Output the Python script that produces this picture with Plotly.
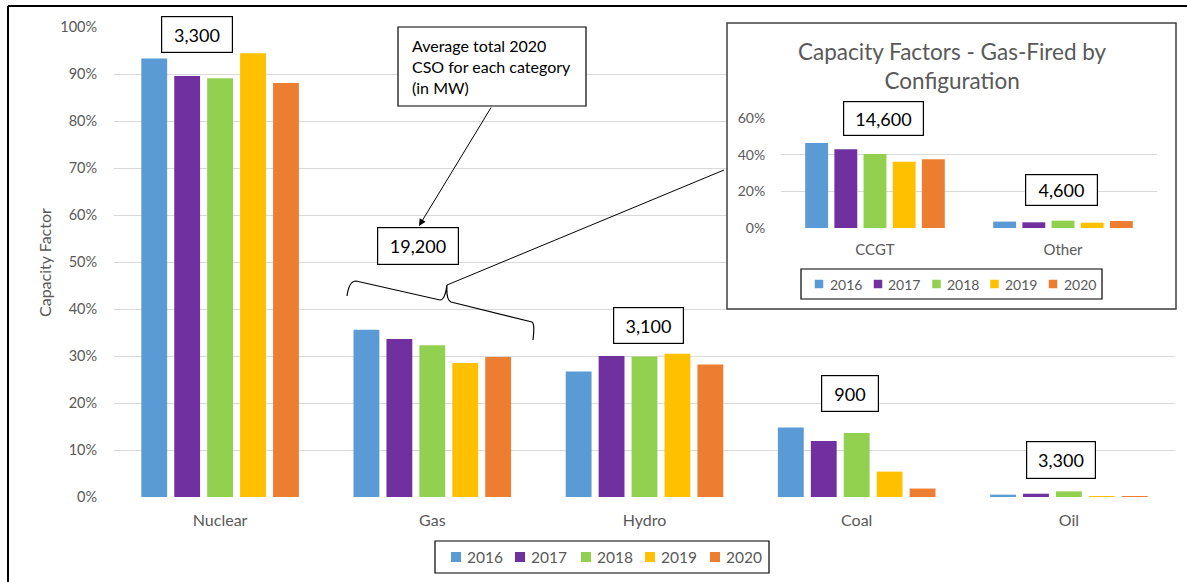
import plotly.graph_objects as go

W, H = 1187, 582

# ---- data -------------------------------------------------------------
years = ["2016", "2017", "2018", "2019", "2020"]
year_colors = ["#5B9BD5", "#7030A0", "#92D050", "#FFC000", "#ED7D31"]

categories = ["Nuclear", "Gas", "Hydro", "Coal", "Oil"]
cf_2016 = [93.3, 35.6, 26.7, 14.8, 0.5]
cf_2017 = [89.6, 33.6, 30.0, 11.9, 0.7]
cf_2018 = [89.1, 32.3, 29.9, 13.6, 1.2]
cf_2019 = [94.4, 28.5, 30.5, 5.4, 0.15]
cf_2020 = [88.1, 29.8, 28.2, 1.8, 0.15]

gas_configs = ["CCGT", "Other"]
gas_2016 = [46.4, 3.5]
gas_2017 = [42.9, 3.1]
gas_2018 = [40.4, 4.0]
gas_2019 = [36.2, 2.9]
gas_2020 = [37.5, 3.8]

# average total 2020 CSO (MW) per category
cso_main = ["3,300", "19,200", "3,100", "900", "3,300"]
cso_gas = ["14,600", "4,600"]

main_ticks = [0, 10, 20, 30, 40, 50, 60, 70, 80, 90, 100]
inset_ticks = [0, 20, 40, 60]

main_series = [cf_2016, cf_2017, cf_2018, cf_2019, cf_2020]
gas_series = [gas_2016, gas_2017, gas_2018, gas_2019, gas_2020]


# ---- helpers: pixel -> paper ------------------------------------------
def px(x):
    return x / W


def py(y):
    return 1 - y / H


FONT = "Lato, 'Open Sans', sans-serif"
GREY = "#595959"
GRID = "#d9d9d9"

fig = go.Figure()

for name, vals, col in zip(years, main_series, year_colors):
    fig.add_trace(go.Bar(x=categories, y=vals, name=name, marker_color=col,
                         marker_line_width=0, xaxis="x", yaxis="y",
                         showlegend=False))

# empty trace that owns the white panel behind the inset chart
fig.add_trace(go.Scatter(x=[], y=[], xaxis="x2", yaxis="y2",
                         showlegend=False, hoverinfo="skip"))

for name, vals, col in zip(years, gas_series, year_colors):
    fig.add_trace(go.Bar(x=gas_configs, y=vals, name=name, marker_color=col,
                         marker_line_width=0, xaxis="x3", yaxis="y3",
                         showlegend=False))

annotations = []
shapes = []


# ---- boxed CSO labels -------------------------------------------------
def boxed(text, x0, y0, x1, y1, size=18):
    bw = 1.2
    annotations.append(dict(
        text=text, x=px((x0 + x1) / 2), y=py((y0 + y1) / 2),
        xref="paper", yref="paper", xanchor="center", yanchor="middle",
        showarrow=False, width=(x1 - x0) - 2 * bw, height=(y1 - y0) - 2 * bw,
        borderpad=0, borderwidth=bw, bordercolor="black", bgcolor="white",
        font=dict(family=FONT, size=size, color="black")))


main_boxes = [(161, 16, 233, 53), (377, 227, 459, 265), (613, 307, 684, 344),
              (821, 375, 879, 412), (1026, 441, 1096, 479)]
for label, b in zip(cso_main, main_boxes):
    boxed(label, *b)

gas_boxes = [(843, 101, 924, 136), (1025, 174, 1098, 206)]
for label, b in zip(cso_gas, gas_boxes):
    boxed(label, *b)


# ---- legends (key squares + year labels in a framed box) ---------------
def legend_box(box, marker_x, text_x, yc, sq, size):
    x0, y0, x1, y1 = box
    shapes.append(dict(type="rect", xref="paper", yref="paper",
                       x0=px(x0), y0=py(y0), x1=px(x1), y1=py(y1),
                       fillcolor="white", line=dict(color="black", width=1.2),
                       layer="above"))
    for name, col, mx, tx in zip(years, year_colors, marker_x, text_x):
        shapes.append(dict(type="rect", xref="paper", yref="paper",
                           x0=px(mx - sq / 2), x1=px(mx + sq / 2),
                           y0=py(yc - sq / 2), y1=py(yc + sq / 2),
                           fillcolor=col, line=dict(width=0), layer="above"))
        annotations.append(dict(
            text=name, x=px(tx), y=py(yc), xref="paper", yref="paper",
            xanchor="left", yanchor="middle", showarrow=False,
            font=dict(family=FONT, size=size, color=GREY)))


legend_box((435, 541, 769, 573), [456, 520, 586, 650, 715],
           [465, 529, 595, 659, 724], 557, 10, 15.5)
legend_box((801, 269, 1102, 299), [819, 878, 936.5, 994.5, 1053],
           [827.5, 886, 944.5, 1003, 1061.5], 284, 8.5, 14)

# ---- callout ------------------------------------------------------------
annotations.append(dict(
    text="Average total 2020<br>CSO for each category<br>(in MW)",
    x=px(410), y=py(66), xref="paper", yref="paper",
    xanchor="left", yanchor="middle", align="left", showarrow=False,
    font=dict(family=FONT, size=16, color="black")))

# arrow from callout to the Gas value box
annotations.append(dict(
    text="", x=px(419), y=py(226), xref="paper", yref="paper",
    ax=492 - 419, ay=106 - 226, axref="pixel", ayref="pixel",
    showarrow=True, arrowhead=2, arrowsize=1.4, arrowwidth=1,
    arrowcolor="black"))

# y-axis title
annotations.append(dict(
    text="Capacity Factor", x=px(45), y=py(263), xref="paper", yref="paper",
    textangle=-90, showarrow=False, xanchor="center", yanchor="middle",
    font=dict(family=FONT, size=16, color=GREY)))

# inset title
annotations.append(dict(
    text="Capacity Factors - Gas-Fired by<br>Configuration",
    x=px(952), y=py(65.5), xref="paper", yref="paper",
    xanchor="center", yanchor="middle", showarrow=False,
    font=dict(family=FONT, size=22.5, color=GREY)))

# ---- shapes -----------------------------------------------------------
brace_pts = [
    ("M", [(347, 296)]),
    ("Q", [(349, 281), (356, 281)]),
    ("L", [(440, 300)]),
    ("Q", [(445, 300), (447, 285)]),
    ("Q", [(446, 300), (451, 302)]),
    ("L", [(532, 322)]),
    ("Q", [(535, 324), (533, 340)]),
]
brace = " ".join(
    cmd + " " + " ".join(f"{px(x):.5f},{py(y):.5f}" for x, y in pts)
    for cmd, pts in brace_pts)

shapes += [
    # outer frame (top and left edges)
    dict(type="line", xref="paper", yref="paper", x0=px(8), y0=py(6),
         x1=1, y1=py(6), line=dict(color="black", width=2)),
    dict(type="line", xref="paper", yref="paper", x0=px(8), y0=py(6),
         x1=px(8), y1=0, line=dict(color="black", width=2)),
    # callout box
    dict(type="rect", xref="paper", yref="paper", x0=px(398), y0=py(27),
         x1=px(586), y1=py(106), fillcolor="white",
         line=dict(color="black", width=1.2), layer="above"),
    # brace over the Gas bars and its leader to the inset
    dict(type="path", xref="paper", yref="paper", path=brace,
         line=dict(color="black", width=1.2)),
    dict(type="line", xref="paper", yref="paper", x0=px(447), y0=py(285),
         x1=px(724), y1=py(170), line=dict(color="black", width=1)),
    # inset border
    dict(type="rect", xref="paper", yref="paper", x0=px(727), y0=py(23),
         x1=px(1176), y1=py(309), line=dict(color="#404040", width=1.5),
         layer="above"),
]

# ---- layout -----------------------------------------------------------
common_x = dict(showgrid=False, showline=False, zeroline=False,
                ticks="outside", tickcolor="rgba(0,0,0,0)", automargin=False)
common_y = dict(showgrid=True, gridcolor=GRID, gridwidth=1, zeroline=False,
                showline=False, ticks="outside",
                tickcolor="rgba(0,0,0,0)", automargin=False)

fig.update_layout(
    template="none",
    width=W, height=H, autosize=False,
    margin=dict(l=0, r=0, t=0, b=0, pad=0, autoexpand=False),
    paper_bgcolor="white", plot_bgcolor="white",
    barmode="group", bargap=0.224, bargroupgap=0.215,
    font=dict(family=FONT, color=GREY),
    showlegend=False,
    xaxis=dict(domain=[px(114), px(1175)], anchor="y", ticklen=9,
               tickfont=dict(family=FONT, size=16, color=GREY), **common_x),
    yaxis=dict(domain=[py(497), py(27)], anchor="x", range=[0, 100],
               tickvals=main_ticks, ticktext=[f"{v}%" for v in main_ticks],
               ticklen=13, tickfont=dict(family=FONT, size=14.5, color=GREY),
               **common_y),
    xaxis2=dict(domain=[px(727), px(1176)], anchor="y2", visible=False,
                range=[0, 1], automargin=False),
    yaxis2=dict(domain=[py(309), py(23)], anchor="x2", visible=False,
                range=[0, 1], automargin=False),
    xaxis3=dict(domain=[px(781), px(1157)], anchor="y3", ticklen=8,
                tickfont=dict(family=FONT, size=15, color=GREY), **common_x),
    yaxis3=dict(domain=[py(228), py(118)], anchor="x3", range=[0, 60],
                tickvals=inset_ticks, ticktext=[f"{v}%" for v in inset_ticks],
                ticklen=12, tickfont=dict(family=FONT, size=14, color=GREY),
                **common_y),
    annotations=annotations,
    shapes=shapes,
)

fig.write_html("out.html")
